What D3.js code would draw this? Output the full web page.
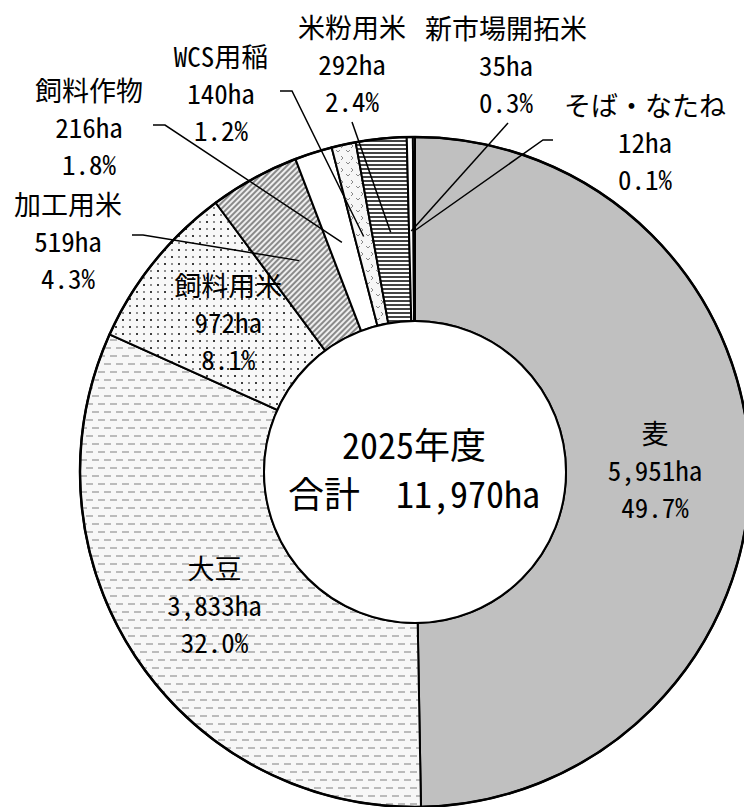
<!DOCTYPE html>
<meta charset="utf-8">
<style>
  body { margin: 0; background: #fff; }
  text { font-family: "Noto Sans Mono CJK JP", "DejaVu Sans Mono", "Noto Sans CJK JP", monospace; fill: #000; }
</style>
<svg width="744" height="807"></svg>
<script src="https://d3js.org/d3.v7.min.js"></script>
<script>
// 品目と面積(ha)
var crops = ['麦', '大豆', '飼料用米', '加工用米', '飼料作物', 'WCS用稲', '米粉用米', '新市場開拓米', 'そば・なたね'];
var areas = [5951, 3833, 972, 519, 216, 140, 292, 35, 12];
var yearLabel = '2025年度';

// 塗り(パターン名)
var fills = ['url(#p-wheat)', 'url(#p-soy)', 'url(#p-dots)', 'url(#p-diag)', '#fff', 'url(#p-marks)', 'url(#p-hstripe)', '#fff', '#fff'];

// ラベル位置: inside=true なら扇形の中, そうでなければ外側に置いて引出線
var labelPos = [
  { inside: true },
  { inside: true },
  { inside: true },
  { x: 68, y: 203, line: [[132, 235], [143, 235]] },
  { x: 89, y: 89, line: [[153, 125], [165, 125]] },
  { x: 221, y: 55, line: [[280, 91], [292, 91]] },
  { x: 352, y: 26, line: [[352, 122]] },
  { x: 506, y: 27, line: [[508, 123]] },
  { x: 645, y: 104, line: [[553, 140], [543, 140]] }
];

var svg = d3.select('svg');
var cx = 415, cy = 472;
var outerR = 335, innerR = 151;
var lineGap = 37;

var defs = svg.append('defs');
// 麦: 灰色
defs.append('pattern').attr('id', 'p-wheat').attr('width', 4).attr('height', 4)
  .attr('patternUnits', 'userSpaceOnUse')
  .append('rect').attr('width', 4).attr('height', 4).attr('fill', '#c0c0c0');
// 大豆: 横ダッシュ
var soy = defs.append('pattern').attr('id', 'p-soy').attr('width', 12).attr('height', 16)
  .attr('patternUnits', 'userSpaceOnUse');
soy.append('rect').attr('width', 12).attr('height', 16).attr('fill', '#f7f7f7');
soy.append('path').attr('d', 'M1,4H8M7,12H12M0,12H2')
  .attr('stroke', '#a8a8a8').attr('stroke-width', 1.6);
// 飼料用米: ドット
var dots = defs.append('pattern').attr('id', 'p-dots').attr('width', 14).attr('height', 14)
  .attr('patternUnits', 'userSpaceOnUse');
dots.append('rect').attr('width', 14).attr('height', 14).attr('fill', '#f8f8f8');
[[2, 2, '#111'], [9, 9, '#111'], [9, 2, '#777'], [2, 9, '#777']].forEach(function (d) {
  dots.append('rect').attr('x', d[0] - 0.9).attr('y', d[1] - 0.9)
    .attr('width', 1.8).attr('height', 1.8).attr('fill', d[2]);
});
// 加工用米: 斜線
var diag = defs.append('pattern').attr('id', 'p-diag').attr('width', 4).attr('height', 4)
  .attr('patternUnits', 'userSpaceOnUse').attr('patternTransform', 'rotate(45)');
diag.append('rect').attr('width', 4).attr('height', 4).attr('fill', '#eeeeee');
diag.append('line').attr('x1', 1).attr('y1', 0).attr('x2', 1).attr('y2', 4)
  .attr('stroke', '#8a8a8a').attr('stroke-width', 2);
// WCS用稲: 小さな記号
var marks = defs.append('pattern').attr('id', 'p-marks').attr('width', 10).attr('height', 12)
  .attr('patternUnits', 'userSpaceOnUse');
marks.append('rect').attr('width', 10).attr('height', 12).attr('fill', '#f6f6f6');
marks.append('path').attr('d', 'M1,2L3,4L5,2M6,8L8,10L6,12')
  .attr('fill', 'none').attr('stroke', '#888').attr('stroke-width', 1);
// 米粉用米: 横縞
var hs = defs.append('pattern').attr('id', 'p-hstripe').attr('width', 4).attr('height', 4)
  .attr('patternUnits', 'userSpaceOnUse');
hs.append('rect').attr('width', 4).attr('height', 4).attr('fill', '#fff');
hs.append('rect').attr('y', 0).attr('width', 4).attr('height', 2).attr('fill', '#444');

var total = d3.sum(areas);
var data = crops.map(function (c, i) {
  return { name: c, value: areas[i], fill: fills[i], pos: labelPos[i] };
});

var pie = d3.pie().sort(null).value(function (d) { return d.value; });
var arcs = pie(data);
var arc = d3.arc().innerRadius(innerR).outerRadius(outerR);
var labelArc = d3.arc().innerRadius(240).outerRadius(240);
var leaderArc = d3.arc().innerRadius(241).outerRadius(241);

var fmtHa = d3.format(',');
var fmtPct = d3.format('.1f');

var g = svg.append('g').attr('transform', 'translate(' + cx + ',' + cy + ')');

g.selectAll('path.slice').data(arcs).enter().append('path')
  .attr('class', 'slice')
  .attr('d', arc)
  .attr('fill', function (d) { return d.data.fill; })
  .attr('stroke', '#000')
  .attr('stroke-width', 2)
  .attr('stroke-linejoin', 'miter');

// 外周と内周
g.append('circle').attr('r', outerR).attr('fill', 'none').attr('stroke', '#000').attr('stroke-width', 2.5);
g.append('circle').attr('r', innerR).attr('fill', '#fff').attr('stroke', '#000').attr('stroke-width', 2);

function lines(d) {
  return [d.data.name, fmtHa(d.data.value) + 'ha', fmtPct(d.data.value / total * 100) + '%'];
}

// 引出線
arcs.filter(function (d) { return !d.data.pos.inside; }).forEach(function (d) {
  var c = leaderArc.centroid(d);
  var pts = d.data.pos.line.map(function (p) { return [p[0] - cx, p[1] - cy]; });
  pts.push(c);
  g.append('path').attr('d', d3.line()(pts))
    .attr('fill', 'none').attr('stroke', '#000').attr('stroke-width', 1.5);
});

// ラベル
arcs.forEach(function (d) {
  var x, y0;
  if (d.data.pos.inside) {
    var c = labelArc.centroid(d);
    x = c[0] + cx; y0 = c[1] + cy - lineGap;
  } else {
    x = d.data.pos.x; y0 = d.data.pos.y;
  }
  var t = svg.append('text').attr('text-anchor', 'middle').attr('font-size', 27);
  lines(d).forEach(function (s, i) {
    t.append('tspan').attr('x', x).attr('y', y0 + i * lineGap)
      .attr('dominant-baseline', 'central').text(s);
  });
});

// 中央
svg.append('text').attr('x', cx - 1).attr('y', 443).attr('text-anchor', 'middle')
  .attr('dominant-baseline', 'central').attr('font-size', 36).text(yearLabel);
svg.append('text').attr('x', cx - 1).attr('y', 492).attr('text-anchor', 'middle')
  .attr('dominant-baseline', 'central').attr('font-size', 36).text('合計　' + fmtHa(total) + 'ha');
</script>
